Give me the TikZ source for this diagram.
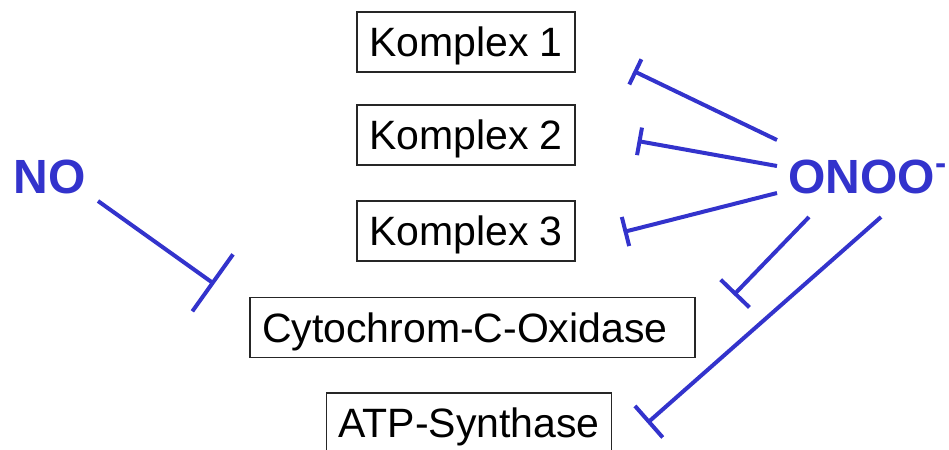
\documentclass[tikz,border=0pt]{standalone}
\usepackage{fontspec}
\setmainfont{Liberation Sans}
\usetikzlibrary{arrows.meta}
\definecolor{inhib}{RGB}{51,51,204}
\begin{document}
\begin{tikzpicture}[x=0.5pt,y=-0.5pt,
  enzyme/.style={draw=black!85,line width=0.7pt,minimum height=30pt,inner xsep=6pt,text depth=0pt,font=\fontsize{20.5}{24}\selectfont},
  agent/.style={inner sep=0pt,text=inhib,font=\fontsize{24}{28}\selectfont\bfseries},
  block/.style={draw=inhib,line width=2pt,-{Bar[width=#1]}}]
\useasboundingbox (0,0) rectangle (949,450);
\node[enzyme] (k1) at (466,42) {Komplex 1};
\node[enzyme] (k2) at (466,135) {Komplex 2};
\node[enzyme] (k3) at (466,231) {Komplex 3};
\node[enzyme,text width=210.5pt,align=left] (cox) at (472.5,327.5) {Cytochrom-C-Oxidase};
\node[enzyme] (atp) at (469,423) {ATP-Synthase};
\node[agent,anchor=base west] (no) at (13,193) {NO};
\node[agent,anchor=base west] (onoo) at (788,193) {ONOO\textsuperscript{-}};

\draw[block=35pt] ([shift={(85,8)}]no.base west) -- ([shift={(-35,-43.5)}]cox.west);
\draw[block=14pt] ([shift={(-11,-53)}]onoo.base west) -- ([shift={(58,29)}]k1.east);
\draw[block=14pt] ([shift={(-11,-27)}]onoo.base west) -- ([shift={(62,6)}]k2.east);
\draw[block=15pt] ([shift={(-11,0)}]onoo.base west) -- ([shift={(48,1)}]k3.east);
\draw[block=20pt] ([shift={(21,24)}]onoo.base west) -- ([shift={(38,-32.5)}]cox.east);
\draw[block=21pt] ([shift={(93,24)}]onoo.base west) -- ([shift={(35,0)}]atp.east);
\end{tikzpicture}
\end{document}
